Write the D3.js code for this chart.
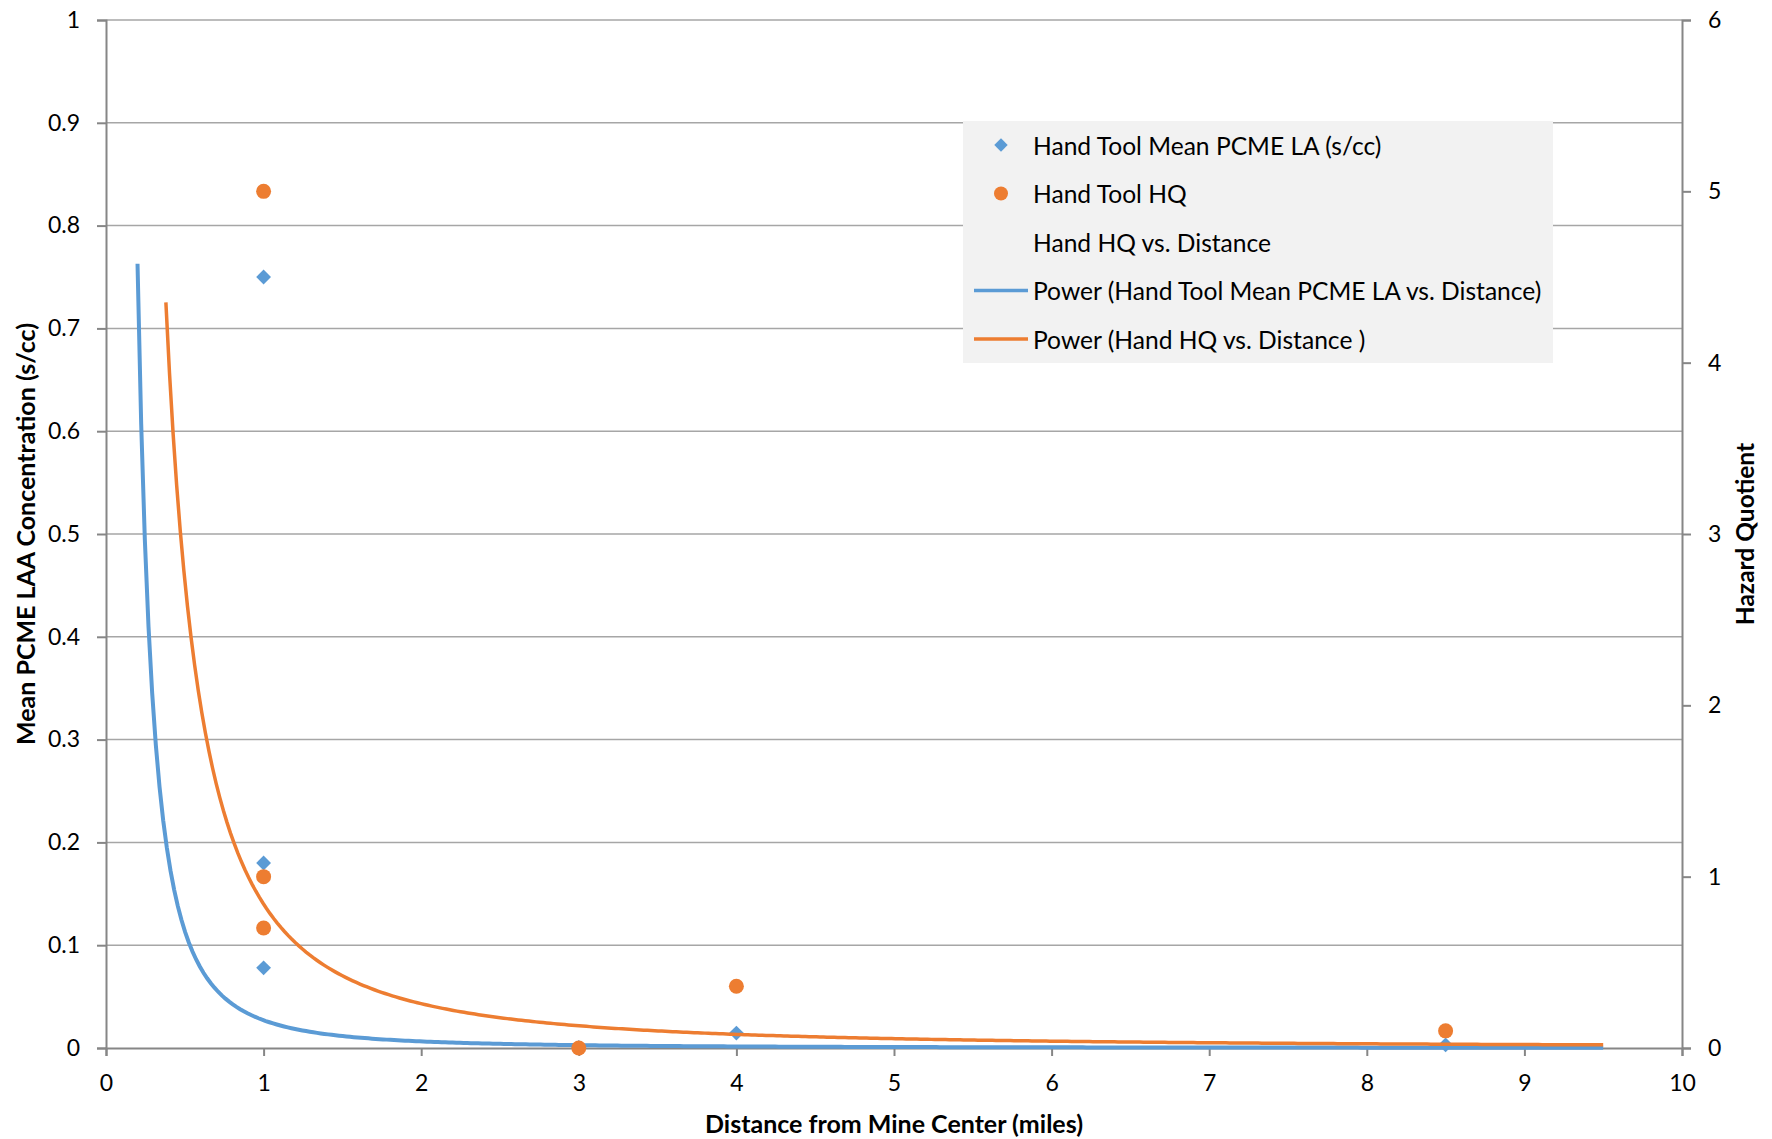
<!DOCTYPE html>
<html>
<head>
<meta charset="utf-8">
<script src="https://cdn.jsdelivr.net/npm/d3@7"></script>
<style>
  html, body { margin: 0; padding: 0; background: #ffffff; }
  svg { display: block; }
  text { font-family: Lato, "Open Sans", sans-serif; fill: #000; }
</style>
</head>
<body>
<svg id="chart" width="1772" height="1139"></svg>
<script>
// ---------- data ----------
const laX      = [1, 1, 1, 3, 4, 8.5];
const laValues = [0.75, 0.18, 0.078, 0.0005, 0.0145, 0.003];   // left axis, s/cc
const hqX      = [1, 1, 1, 3, 4, 8.5];
const hqValues = [5.0, 1.0, 0.70, 0.0, 0.36, 0.10];             // right axis, HQ

// Excel power trendlines y = a * x^b
const laTrend = { a: 0.027, b: -2.076, xStart: 0.2, xEnd: 9.5 };
const hqTrend = { a: 0.84,  b: -1.70,  xStart: 0.38, xEnd: 9.5 };

const xTicks      = [0, 1, 2, 3, 4, 5, 6, 7, 8, 9, 10];
const yLeftTicks  = [0, 0.1, 0.2, 0.3, 0.4, 0.5, 0.6, 0.7, 0.8, 0.9, 1];
const yRightTicks = [0, 1, 2, 3, 4, 5, 6];

const legendLabels = [
  "Hand Tool Mean PCME LA (s/cc)",
  "Hand Tool HQ",
  "Hand HQ vs. Distance",
  "Power (Hand Tool Mean PCME LA vs. Distance)",
  "Power (Hand HQ vs. Distance )"
];

// ---------- layout ----------
const W = 1772, H = 1139;
const m = { left: 106, right: W - 1682, top: 20, bottom: H - 1048 };
const blue = "#5B9BD5", orange = "#ED7D31";
const gridColor = "#a6a6a6", axisColor = "#868686";

const svg = d3.select("#chart");

const x  = d3.scaleLinear().domain([0, 10]).range([m.left, W - m.right]);
const yL = d3.scaleLinear().domain([0, 1]).range([H - m.bottom, m.top]);
const yR = d3.scaleLinear().domain([0, 6]).range([H - m.bottom, m.top]);

// gridlines
svg.append("g")
  .selectAll("line")
  .data(yLeftTicks.slice(1))
  .join("line")
  .attr("x1", x(0)).attr("x2", x(10))
  .attr("y1", d => yL(d)).attr("y2", d => yL(d))
  .attr("stroke", gridColor).attr("stroke-width", 1.5);

// axes
const fmtL = d => (d === 0 ? "0" : d === 1 ? "1" : d3.format(".1f")(d));
const axL = svg.append("g").attr("transform", `translate(${m.left},0)`)
  .call(d3.axisLeft(yL).tickValues(yLeftTicks).tickFormat(fmtL).tickSizeOuter(0).tickSize(9).tickPadding(17));
const axR = svg.append("g").attr("transform", `translate(${W - m.right},0)`)
  .call(d3.axisRight(yR).tickValues(yRightTicks).tickFormat(d3.format("d")).tickSizeOuter(0).tickSize(9).tickPadding(17));
const axB = svg.append("g").attr("transform", `translate(0,${H - m.bottom})`)
  .call(d3.axisBottom(x).tickValues(xTicks).tickFormat(d3.format("d")).tickSizeOuter(0).tickSize(8).tickPadding(19));

[axL, axR, axB].forEach(g => {
  g.select(".domain").attr("stroke", axisColor).attr("stroke-width", 2);
  g.selectAll(".tick line").attr("stroke", axisColor).attr("stroke-width", 2);
  g.selectAll(".tick text").style("font-family", "Lato, sans-serif").style("font-size", "23px").attr("fill", "#000");
});

// trendlines
function trendPoints(t) {
  const n = 400, pts = [];
  for (let i = 0; i <= n; i++) {
    const xv = t.xStart + (t.xEnd - t.xStart) * i / n;
    pts.push([xv, t.a * Math.pow(xv, t.b)]);
  }
  return pts;
}

// diamonds (LA)
svg.append("g")
  .selectAll("path")
  .data(laX.map((d, i) => [d, laValues[i]]))
  .join("path")
  .attr("d", d3.symbol(d3.symbolSquare, 110)())
  .attr("transform", d => `translate(${x(d[0])},${yL(d[1])}) rotate(45)`)
  .attr("fill", blue);

svg.append("path")
  .datum(trendPoints(laTrend))
  .attr("fill", "none").attr("stroke", blue).attr("stroke-width", 4)
  .attr("d", d3.line().x(d => x(d[0])).y(d => yL(d[1])));

svg.append("path")
  .datum(trendPoints(hqTrend))
  .attr("fill", "none").attr("stroke", orange).attr("stroke-width", 3.5)
  .attr("d", d3.line().x(d => x(d[0])).y(d => yR(d[1])));

// circles (HQ)
svg.append("g")
  .selectAll("circle")
  .data(hqX.map((d, i) => [d, hqValues[i]]))
  .join("circle")
  .attr("cx", d => x(d[0])).attr("cy", d => yR(d[1]))
  .attr("r", 7.5).attr("fill", orange);

// axis titles
svg.append("text")
  .attr("transform", `translate(25,${(m.top + H - m.bottom) / 2}) rotate(-90)`)
  .attr("text-anchor", "middle").attr("dominant-baseline", "central")
  .style("font-weight", "bold").style("font-size", "25px")
  .text("Mean PCME LAA Concentration (s/cc)");

svg.append("text")
  .attr("transform", `translate(1744,${(m.top + H - m.bottom) / 2}) rotate(-90)`)
  .attr("text-anchor", "middle").attr("dominant-baseline", "central")
  .style("font-weight", "bold").style("font-size", "24.5px")
  .text("Hazard Quotient");

svg.append("text")
  .attr("x", (m.left + W - m.right) / 2).attr("y", 1133)
  .attr("text-anchor", "middle")
  .style("font-weight", "bold").style("font-size", "25px")
  .text("Distance from Mine Center (miles)");

// legend
const lg = svg.append("g");
lg.append("rect").attr("x", 963).attr("y", 121).attr("width", 590).attr("height", 242).attr("fill", "#f2f2f2");
const rowY = i => 145 + i * 48.5;
lg.selectAll("text.lab")
  .data(legendLabels)
  .join("text")
  .attr("class", "lab")
  .attr("x", 1033).attr("y", (d, i) => rowY(i))
  .attr("dominant-baseline", "central")
  .style("font-size", "24.6px")
  .text(d => d);
lg.append("path")
  .attr("d", d3.symbol(d3.symbolSquare, 90)())
  .attr("transform", `translate(1001,${rowY(0)}) rotate(45)`)
  .attr("fill", blue);
lg.append("circle").attr("cx", 1001).attr("cy", rowY(1)).attr("r", 7).attr("fill", orange);
lg.append("line").attr("x1", 974).attr("x2", 1028).attr("y1", rowY(3)).attr("y2", rowY(3))
  .attr("stroke", blue).attr("stroke-width", 3.5);
lg.append("line").attr("x1", 974).attr("x2", 1028).attr("y1", rowY(4)).attr("y2", rowY(4))
  .attr("stroke", orange).attr("stroke-width", 3.5);
</script>
</body>
</html>
